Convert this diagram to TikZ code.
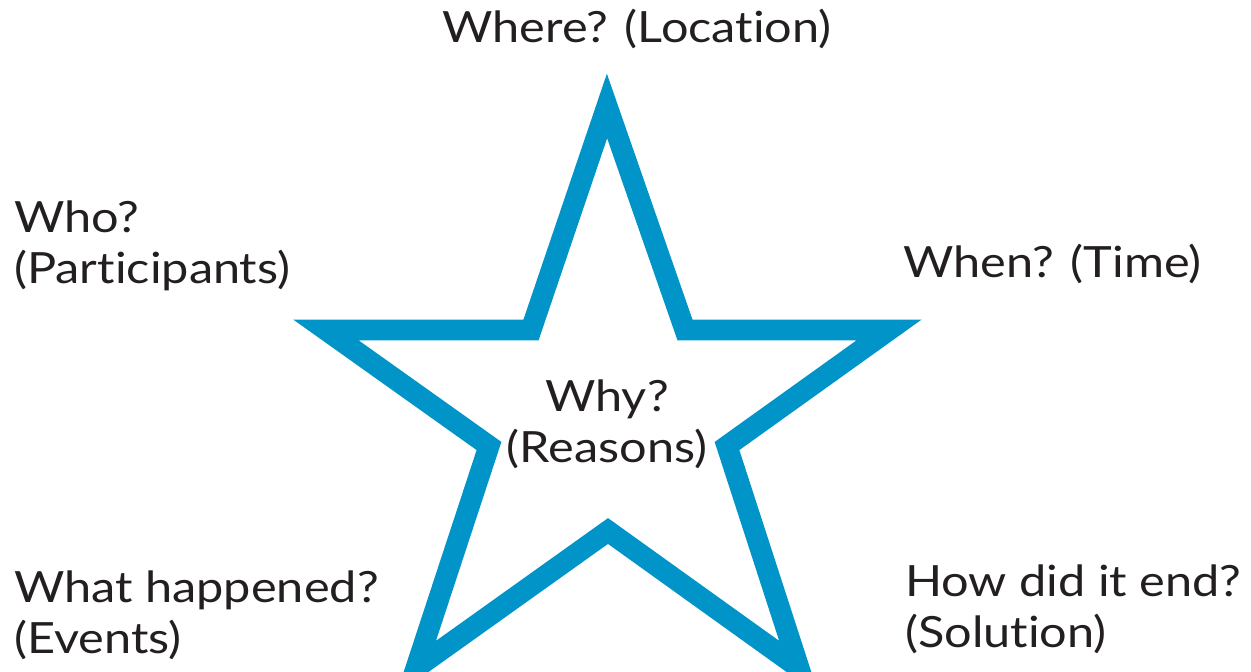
\documentclass[tikz,border=0pt]{standalone}
\usepackage{fontspec}
\setmainfont{Lato}[FakeStretch=1.13, Ligatures=NoCommon]
\definecolor{starblue}{RGB}{0,148,200}
\definecolor{inkgray}{RGB}{35,31,32}

\begin{document}
\begin{tikzpicture}[x=0.02cm, y=-0.02cm,
    qtext/.style={font=\fontsize{24.5}{28.5}\selectfont, text=inkgray, inner sep=0pt, align=left},
    starline/.style={draw=starblue, line width=0.42cm, line join=miter}]
    \useasboundingbox (0,0) rectangle (1251,672);
    % the star, cut off at the lower edge
    \begin{scope}
        \clip (0,0) rectangle (1251,672);
        \draw[starline] (607,106) -- (685,330) -- (889,330) -- (727,446) -- (799,668)
            -- (608,531) -- (416,668) -- (489,446) -- (326,330) -- (531,330) -- cycle;
    \end{scope}
    % the questions (base = last line)
    \node[qtext, anchor=base west] (where) at (442,43) {Where? (Location)};
    \node[qtext, anchor=base west] (who) at (14,283) {Who?\\(Participants)};
    \node[qtext, anchor=base west] (when) at (903,277) {When? (Time)};
    \node[qtext, align=center, anchor=base] (why) at (607,462) {Why?\\(Reasons)};
    \node[qtext, anchor=base west] (what) at (14,653) {What happened?\\(Events)};
    \node[qtext, anchor=base west] (how) at (905,647) {How did it end?\\(Solution)};
\end{tikzpicture}
\end{document}
